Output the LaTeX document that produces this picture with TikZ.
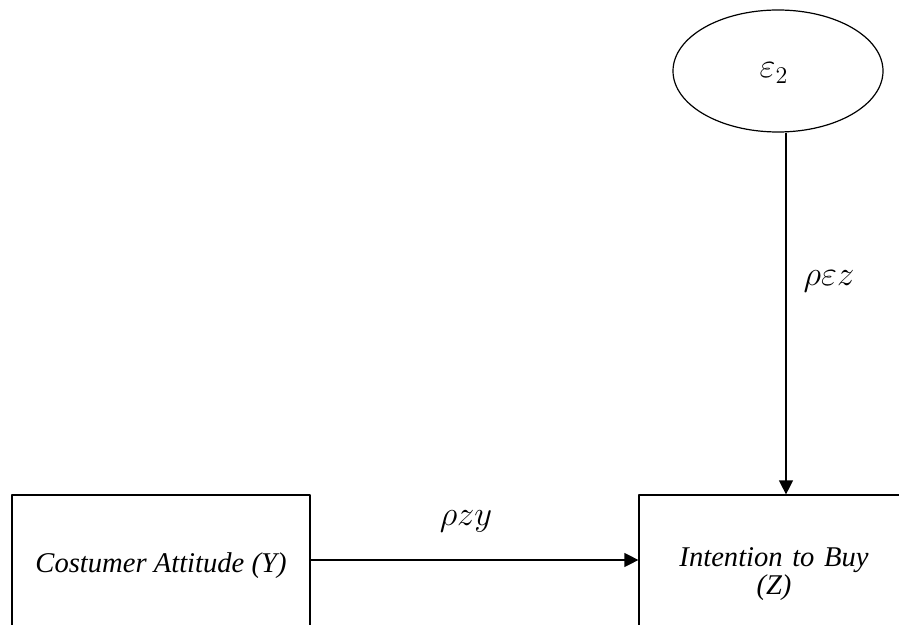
\documentclass[tikz,border=0pt]{standalone}
\usepackage{fontspec}
\setmainfont{Liberation Serif}
\usetikzlibrary{arrows.meta,shapes.geometric}
\begin{document}
\begin{tikzpicture}[x=0.5pt, y=-0.5pt, font=\fontsize{14.3}{14.3}\selectfont, line join=round,
		arr/.style={-{Triangle[length=7pt,width=7pt]}, line width=0.6pt},
		box/.style={draw, line width=0.6pt, rectangle, align=center, font=\fontsize{14.3}{14}\selectfont\itshape},
		lbl/.style={font=\fontsize{16.5}{16.5}\selectfont}]
				\useasboundingbox (0,0) rectangle (899,625);
				\def \rx{105pt}
				\def \ry{61pt}
				% variabel laten
				\node [draw, ellipse, line width=0.6pt, minimum width=\rx, minimum height=\ry, inner sep=0pt] (eps) at (778,71) {};
				\node [lbl] (epslbl) at (774,73) {$\varepsilon_2$};
				% variabel Y dan Z
				\node [box, minimum width=149pt, minimum height=71pt] (ybox) at (161,566) {Costumer Attitude (Y)};
				\node [box, minimum width=135pt, minimum height=79pt, text width=110pt] (zbox) at (774,574) {Intention to Buy\\(Z)};
				\coordinate (a) at ([xshift=4pt]eps.south);
				\coordinate (b) at ([yshift=3pt]ybox.east);
				\draw [arr] (a) -- (a |- zbox.north);
				\draw [arr] (b) -- (b -| zbox.west);
				\node [lbl] (pzy) at (466,521) {$\rho z y$};
				\node [lbl] (pez) at (829,281) {$\rho\varepsilon z$};
		\end{tikzpicture}
\end{document}
